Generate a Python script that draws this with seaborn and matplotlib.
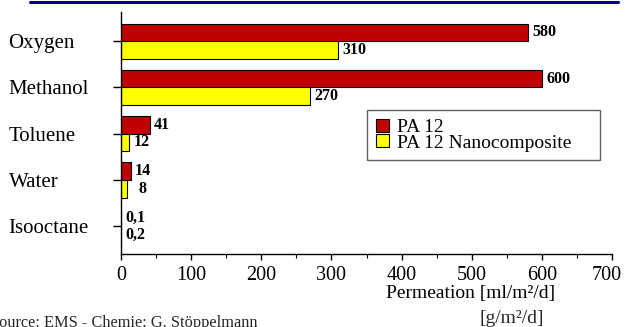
import matplotlib
matplotlib.use("Agg")
import matplotlib.pyplot as plt
import matplotlib.patches as mpatches
from matplotlib.lines import Line2D
from matplotlib.ticker import MultipleLocator
from matplotlib.transforms import ScaledTranslation
import pandas as pd
import seaborn as sns

# Permeation through PA 12 films, with and without nano filler
substances = ["Oxygen", "Methanol", "Toluene", "Water", "Isooctane"]
materials = ["PA 12", "PA 12 Nanocomposite"]
pa12_values = [580, 600, 41, 14, 0.1]
nano_values = [310, 270, 12, 8, 0.2]
x_ticks = [0, 100, 200, 300, 400, 500, 600, 700]
colors = ["#C00000", "#FFFF00"]

df = pd.DataFrame({
    "Substance": substances * 2,
    "Permeation": pa12_values + nano_values,
    "Material": [materials[0]] * len(substances) + [materials[1]] * len(substances),
})

sns.set_theme(style="white")
plt.rcParams["font.family"] = ["Liberation Serif", "DejaVu Serif"]

fig = plt.figure(figsize=(6.25, 3.27), dpi=100)
ax = fig.add_axes([121 / 625, 1 - 254 / 327, 491 / 625, 242 / 327])

sns.barplot(
    data=df, y="Substance", x="Permeation", hue="Material",
    order=substances, hue_order=materials, palette=colors,
    orient="h", width=0.76, saturation=1, errorbar=None,
    edgecolor="black", linewidth=0.8, legend=False, ax=ax,
)


def fmt(v):
    s = f"{v:g}".replace(".", ",")
    if len(s) < 2:
        s = "\u2007" * (2 - len(s)) + s
    return s


for cont, vals in zip(ax.containers, [pa12_values, nano_values]):
    ax.bar_label(cont, labels=[fmt(v) for v in vals], padding=3,
                 fontsize=11.5, fontweight="bold", color="black")

ax.set_xlim(0, 700)
ax.set_ylim(4.6, -0.63)
ax.set_xticks(x_ticks)
ax.xaxis.set_minor_locator(MultipleLocator(50))
ax.set_ylabel("")
ax.set_xlabel("Permeation [ml/m²/d]", fontsize=14, color="black")
ax.xaxis.set_label_coords(0.711, -0.127)

sns.despine(ax=ax)
for side in ["left", "bottom"]:
    ax.spines[side].set_color("black")
    ax.spines[side].set_linewidth(1)

ax.tick_params(axis="x", which="major", direction="out", length=4, width=1,
               color="black", labelsize=14.5, labelcolor="black", pad=5, bottom=True)
ax.tick_params(axis="x", which="minor", direction="out", length=3, width=0.8,
               color="black", bottom=True)
ax.tick_params(axis="y", direction="out", length=6, width=1, color="black",
               labelsize=15, labelcolor="black", pad=75, left=True)
for lab in ax.get_yticklabels():
    lab.set_horizontalalignment("left")

# keep the last x tick label inside the figure edge
last = ax.xaxis.get_major_ticks()[-1].label1
last.set_transform(last.get_transform() + ScaledTranslation(-4 / 72, 0, fig.dpi_scale_trans))

handles = [mpatches.Patch(facecolor=c, edgecolor="black", linewidth=0.8) for c in colors]
leg = ax.legend(
    handles, materials, loc="upper left",
    bbox_to_anchor=(0.501, 0.388, 0.475, 0.207), mode="expand",
    fontsize=14, frameon=True, fancybox=False, framealpha=1,
    handlelength=0.67, handleheight=0.67, handletextpad=0.4,
    labelspacing=-0.1, borderpad=0.45, borderaxespad=0,
)
leg.get_frame().set_edgecolor("#606060")
leg.get_frame().set_linewidth(1)
for t in leg.get_texts():
    t.set_color("black")

fig.text(512 / 625, 1 - 310 / 327, "[g/m²/d]", fontsize=14, ha="center", va="top")
fig.text(-10 / 625, 1 - 327 / 327, "Source: EMS - Chemie; G. Stöppelmann",
         fontsize=11.8, va="baseline", ha="left")
fig.add_artist(Line2D([30 / 625, 618 / 625], [1 - 1.5 / 327] * 2,
                      color="#000080", lw=2.2, transform=fig.transFigure))

fig.savefig("out.png", dpi=100)
